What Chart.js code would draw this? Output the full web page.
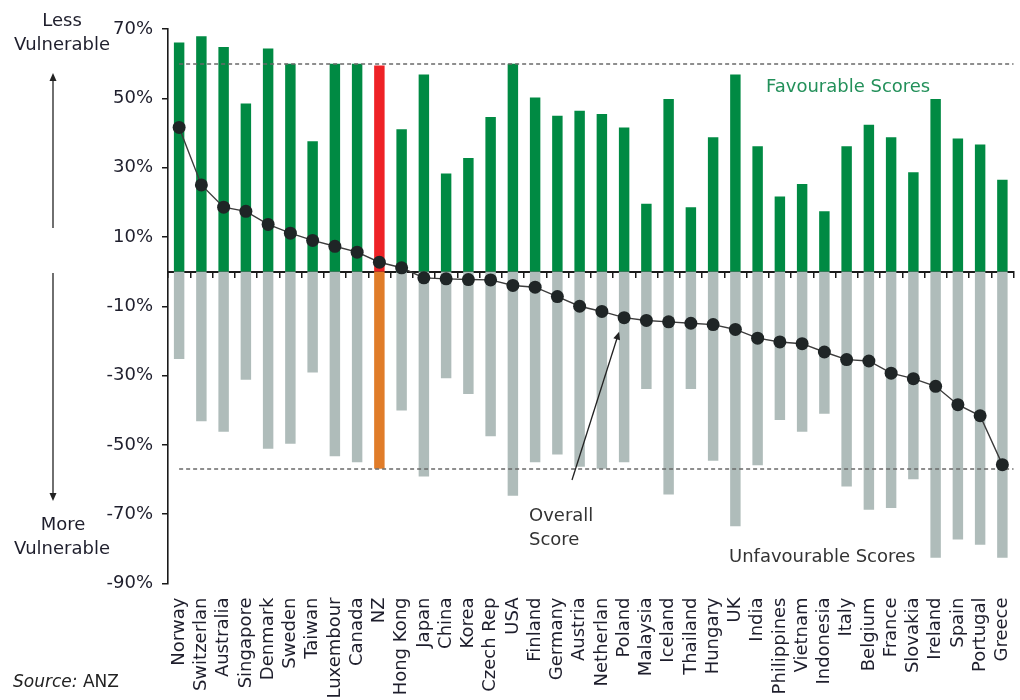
<!DOCTYPE html>
<html>
<head>
<meta charset="utf-8">
<script src="https://cdn.jsdelivr.net/npm/chart.js@4.4.1/dist/chart.umd.min.js"></script>
<style>
  html, body { margin: 0; padding: 0; background: #ffffff; }
  #wrap { width: 1020px; height: 700px; position: relative; }
</style>
</head>
<body>
<div id="wrap"><canvas id="c" width="1020" height="700"></canvas></div>
<script>
// Country vulnerability scores (% of indicators)
const categories = ['Norway','Switzerlan','Australia','Singapore','Denmark','Sweden','Taiwan','Luxembour','Canada','NZ',
  'Hong Kong','Japan','China','Korea','Czech Rep','USA','Finland','Germany','Austria','Netherlan',
  'Poland','Malaysia','Iceland','Thailand','Hungary','UK','India','Philippines','Vietnam','Indonesia',
  'Italy','Belgium','France','Slovakia','Ireland','Spain','Portugal','Greece'];

const favourable = [66.1, 67.9, 64.8, 48.5, 64.4, 60, 37.6, 60, 60, 59.5,
  41.1, 56.9, 28.3, 32.8, 44.6, 60, 50.2, 45.0, 46.4, 45.5,
  41.6, 19.6, 49.8, 18.6, 38.8, 56.9, 36.2, 21.7, 25.3, 17.4,
  36.2, 42.4, 38.8, 28.7, 49.8, 38.4, 36.7, 26.5];

const unfavourable = [-25.2, -43.2, -46.2, -31.2, -51.1, -49.7, -29.1, -53.3, -55.0, -56.9,
  -40.1, -59.1, -30.8, -35.3, -47.5, -64.7, -55.0, -52.8, -56.3, -56.9,
  -55.0, -33.9, -64.3, -33.9, -54.6, -73.5, -55.9, -42.8, -46.2, -41.0,
  -62.0, -68.7, -68.2, -59.9, -82.6, -77.3, -78.8, -82.6];

const overall = [41.6, 25.0, 18.6, 17.4, 13.6, 11.1, 9.0, 7.3, 5.6, 2.7,
  1.1, -1.8, -2.1, -2.3, -2.4, -4.0, -4.5, -7.2, -10.0, -11.5,
  -13.3, -14.1, -14.5, -14.9, -15.3, -16.7, -19.2, -20.3, -20.8, -23.2,
  -25.4, -25.8, -29.3, -30.9, -33.1, -38.4, -41.6, -55.7];

const yTicks = [70, 50, 30, 10, -10, -30, -50, -70, -90];
const benchmarks = [60, -57];   // dashed reference levels
const highlight = 'NZ';

const GREEN = '#008a43', GREY = '#afbcba', RED = '#ee2226', ORANGE = '#e07c29';
const TEXT = '#1e1e2c';
const FONT = '"DejaVu Sans", Verdana, sans-serif';

const favColors = categories.map(c => c === highlight ? RED : GREEN);
const unfColors = categories.map(c => c === highlight ? ORANGE : GREY);

function arrow(ctx, x1, y1, x2, y2) {
  // shaft from (x1,y1) to head at (x2,y2)
  const ang = Math.atan2(y2 - y1, x2 - x1);
  const hl = 8, hw = 3.5;
  ctx.save();
  ctx.strokeStyle = '#222'; ctx.fillStyle = '#222'; ctx.lineWidth = 1.3;
  ctx.beginPath();
  ctx.moveTo(x1, y1);
  ctx.lineTo(x2 - Math.cos(ang) * hl * 0.8, y2 - Math.sin(ang) * hl * 0.8);
  ctx.stroke();
  ctx.beginPath();
  ctx.moveTo(x2, y2);
  ctx.lineTo(x2 - Math.cos(ang) * hl - Math.sin(ang) * hw, y2 - Math.sin(ang) * hl + Math.cos(ang) * hw);
  ctx.lineTo(x2 - Math.cos(ang) * hl + Math.sin(ang) * hw, y2 - Math.sin(ang) * hl - Math.cos(ang) * hw);
  ctx.closePath();
  ctx.fill();
  ctx.restore();
}

// dashed benchmark levels: over the bars, under the overall-score line
const refLines = {
  id: 'refLines',
  beforeDatasetDraw(chart, args) {
    if (args.meta.type !== 'line') return;
    const {ctx, chartArea, scales: {x, y}} = chart;
    ctx.save();
    ctx.strokeStyle = '#6a6a6a';
    ctx.lineWidth = 1.6;
    ctx.setLineDash([4, 3]);
    const x0 = x.getPixelForValue(0);
    benchmarks.forEach(v => {
      const py = Math.round(y.getPixelForValue(v));
      ctx.beginPath();
      ctx.moveTo(x0, py);
      ctx.lineTo(chartArea.right, py);
      ctx.stroke();
    });
    ctx.restore();
  }
};

const notes = {
  id: 'notes',
  afterDraw(chart) {
    const {ctx, scales: {x, y}} = chart;
    ctx.save();
    ctx.textBaseline = 'middle';
    ctx.font = '18px ' + FONT;
    ctx.fillStyle = TEXT;
    ctx.textAlign = 'center';
    ctx.fillText('Less', 62, 21);
    ctx.fillText('Vulnerable', 62, 45);
    ctx.fillText('More', 63, 525);
    ctx.fillText('Vulnerable', 62, 549);
    arrow(ctx, 53, 228, 53, 73);
    arrow(ctx, 53, 273, 53, 501);

    ctx.textAlign = 'left';
    ctx.fillStyle = '#23905a';
    ctx.fillText('Favourable Scores', 766, 87);
    ctx.fillStyle = '#333333';
    ctx.fillText('Unfavourable Scores', 729, 557);
    ctx.fillText('Overall', 529, 516);
    ctx.fillText('Score', 529, 540);

    // pointer to the overall-score line
    const i = categories.indexOf('Poland');
    const tx = x.getPixelForValue(i) - 5;
    const ty = y.getPixelForValue(overall[i]) + 14;
    arrow(ctx, 572, 480, tx, ty);

    ctx.font = 'italic 17px ' + FONT;
    ctx.fillStyle = '#222';
    ctx.fillText('Source:', 13, 683);
    const w = ctx.measureText('Source: ').width;
    ctx.font = '17px ' + FONT;
    ctx.fillText('ANZ', 13 + w, 683);
    ctx.restore();
  }
};

new Chart(document.getElementById('c'), {
  data: {
    labels: categories,
    datasets: [
      {
        type: 'line', label: 'Overall Score', data: overall, order: 0,
        borderColor: '#3c3c3c', borderWidth: 1.4, tension: 0,
        pointRadius: 6.5, pointBackgroundColor: '#1f2526', pointBorderColor: '#1f2526', pointBorderWidth: 0
      },
      {
        type: 'bar', label: 'Favourable Scores', data: favourable, order: 1,
        backgroundColor: favColors, grouped: false,
        barPercentage: 0.47, categoryPercentage: 1
      },
      {
        type: 'bar', label: 'Unfavourable Scores', data: unfavourable, order: 1,
        backgroundColor: unfColors, grouped: false,
        barPercentage: 0.47, categoryPercentage: 1
      }
    ]
  },
  options: {
    responsive: false,
    animation: false,
    layout: { padding: { top: 29, right: 0, bottom: 0, left: 0 } },
    plugins: { legend: { display: false }, tooltip: { enabled: false } },
    scales: {
      x: {
        type: 'category', position: 'bottom', offset: true,
        grid: { display: false, offset: true },
        border: { display: false },
        ticks: {
          autoSkip: false, minRotation: 90, maxRotation: 90, padding: 6,
          color: TEXT, font: { family: FONT, size: 18 }
        },
        afterFit(s) { s.height = 116.5; s.paddingLeft = 0; s.paddingRight = 0; }
      },
      x2: {
        type: 'category', position: { y: 0 }, offset: true,
        grid: { display: true, offset: true, drawOnChartArea: false, drawTicks: true, tickLength: 5, color: '#1a1a1a', lineWidth: 1.5 },
        border: { display: true, color: '#1a1a1a', width: 2 },
        ticks: { display: false }
      },
      y: {
        min: -90, max: 70,
        afterBuildTicks(s) { s.ticks = yTicks.map(v => ({ value: v })); },
        grid: { display: true, drawOnChartArea: false, drawTicks: true, tickLength: 6, color: '#1a1a1a', lineWidth: 1.5 },
        border: { display: true, color: '#1a1a1a', width: 1.6 },
        ticks: {
          padding: 9, color: TEXT, font: { family: FONT, size: 18 },
          callback: v => v + '%'
        },
        afterFit(s) { s.width = 168; }
      }
    }
  },
  plugins: [refLines, notes]
});
</script>
</body>
</html>
